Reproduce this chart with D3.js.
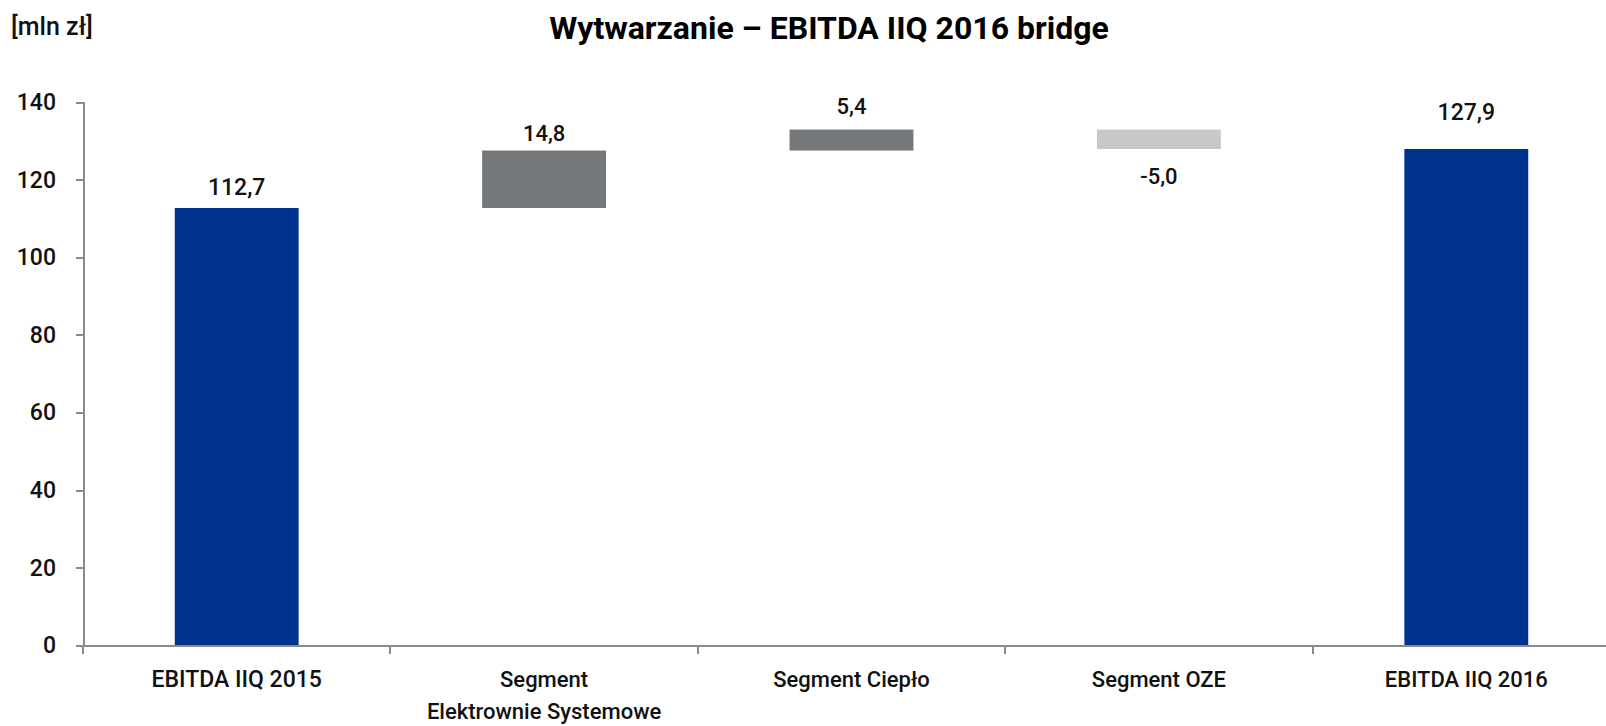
<!DOCTYPE html>
<html>
<head>
  <meta charset="utf-8">
  <script src="https://d3js.org/d3.v7.min.js"></script>
  <style>
    body { margin: 0; background: #fff; }
    text { font-family: Roboto, "Open Sans", sans-serif; font-size: 23px; font-weight: 500; fill: #111; }
    text.narrow { font-size: 22px; }
    text.unit { font-size: 25px; }
    text.title { font-size: 32px; font-weight: 700; fill: #000; }
    .axis path, .axis line { stroke: #8a8a8a; stroke-width: 2px; shape-rendering: crispEdges; }
    .axis text { font-size: 23px; fill: #111; }
  </style>
</head>
<body>
<script>

  // data
  const categories = ["EBITDA IIQ 2015", "Segment\nElektrownie Systemowe", "Segment Ciepło", "Segment OZE", "EBITDA IIQ 2016"];
  const values = [112.7, 14.8, 5.4, -5.0, 127.9];
  const kinds = ["total", "delta", "delta", "delta", "total"];
  const yTicks = [0, 20, 40, 60, 80, 100, 120, 140];

  const width = 1606, height = 726;
  const margin = {top: 102, left: 83, bottom: 80};
  const plotRight = 1620;           // plot area runs past the right edge in the original
  const colour = {total: "#00338d", up: "#75787b", down: "#c8c9c7"};
  // hand-placed label nudges in the original (px above bar end)
  const labelGap = [21, 17, 23, 27, 37];
  // the original mixes two fonts: which labels use the narrower one
  const narrowCat = [false, true, true, true, true];
  const narrowVal = [false, true, true, true, false];

  const fmt = v => d3.format(".1f")(v).replace(".", ",").replace("\u2212", "-");

  // running totals for the bridge
  let run = 0;
  const bars = categories.map((c, i) => {
    let lo, hi;
    if (kinds[i] === "total") { lo = 0; hi = values[i]; run = values[i]; }
    else { lo = run; hi = run + values[i]; run = hi; }
    return {cat: c, value: values[i], kind: kinds[i], y0: Math.min(lo, hi), y1: Math.max(lo, hi)};
  });

  const svg = d3.select("body").append("svg")
    .attr("width", width)
    .attr("height", height);

  const x = d3.scaleBand()
    .domain(categories)
    .range([margin.left, plotRight])
    .paddingInner(0.597)
    .paddingOuter(0.2985);

  const y = d3.scaleLinear()
    .domain([0, 140])
    .range([645.5, margin.top]);

  // title + unit
  svg.append("text")
    .attr("class", "title")
    .attr("x", 829)
    .attr("y", 39)
    .style("text-anchor", "middle")
    .text("Wytwarzanie – EBITDA IIQ 2016 bridge");

  svg.append("text")
    .attr("class", "unit")
    .attr("x", 11)
    .attr("y", 35)
    .text("[mln zł]");

  // bars
  svg.selectAll("rect.bar")
    .data(bars)
    .enter()
    .append("rect")
    .attr("class", "bar")
    .attr("x", d => x(d.cat))
    .attr("width", x.bandwidth())
    .attr("y", d => y(d.y1))
    .attr("height", d => y(d.y0) - y(d.y1))
    .style("fill", d => d.kind === "total" ? colour.total : (d.value >= 0 ? colour.up : colour.down));

  // value labels
  svg.selectAll("text.valueLabel")
    .data(bars)
    .enter()
    .append("text")
    .attr("class", (d, i) => "valueLabel" + (narrowVal[i] ? " narrow" : ""))
    .attr("x", d => x(d.cat) + x.bandwidth() / 2)
    .attr("y", (d, i) => d.value >= 0 ? y(d.y1) - labelGap[i] : y(d.y0) + labelGap[i])
    .attr("dy", "0.35em")
    .style("text-anchor", "middle")
    .text(d => fmt(d.value));

  // y axis
  svg.append("g")
    .attr("class", "axis yAxis")
    .attr("transform", `translate(${margin.left},0)`)
    .call(d3.axisLeft(y).tickValues(yTicks).tickSize(7).tickPadding(20).tickFormat(d3.format("d")));

  // x axis: baseline with ticks on category boundaries
  const step = x.step();
  const bounds = d3.range(categories.length + 1).map(i => margin.left + i * step);
  const xg = svg.append("g").attr("class", "axis xAxis");
  xg.append("line")
    .attr("x1", margin.left).attr("x2", plotRight)
    .attr("y1", y(0)).attr("y2", y(0));
  xg.selectAll("line.tick")
    .data(bounds)
    .enter()
    .append("line")
    .attr("class", "tick")
    .attr("x1", d => d).attr("x2", d => d)
    .attr("y1", y(0)).attr("y2", y(0) + 8);

  const catLabels = svg.selectAll("text.cat")
    .data(categories)
    .enter()
    .append("text")
    .attr("class", (d, i) => "cat" + (narrowCat[i] ? " narrow" : ""))
    .attr("x", d => x(d) + x.bandwidth() / 2)
    .attr("y", y(0) + 41)
    .style("text-anchor", "middle");
  catLabels.selectAll("tspan")
    .data(d => d.split("\n").map(t => ({t, x: x(d) + x.bandwidth() / 2})))
    .enter()
    .append("tspan")
    .attr("x", d => d.x)
    .attr("dy", (d, i) => i ? 32 : 0)
    .text(d => d.t);

</script>
</body>
</html>
